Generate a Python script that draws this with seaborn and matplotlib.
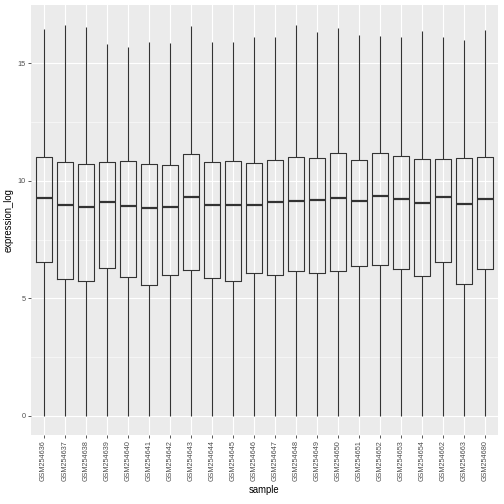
import numpy as np
import pandas as pd
import seaborn as sns
import matplotlib
matplotlib.use("Agg")
import matplotlib.pyplot as plt
from matplotlib.ticker import MultipleLocator

samples = [
    "GSM254636", "GSM254637", "GSM254638", "GSM254639", "GSM254640",
    "GSM254641", "GSM254642", "GSM254643", "GSM254644", "GSM254645",
    "GSM254646", "GSM254647", "GSM254648", "GSM254649", "GSM254650",
    "GSM254651", "GSM254652", "GSM254653", "GSM254654", "GSM254662",
    "GSM254663", "GSM254680",
]
mins = [0.0] * len(samples)
q1s = [6.54, 5.81, 5.73, 6.28, 5.90, 5.56, 5.98, 6.20, 5.86, 5.73, 6.07,
       5.98, 6.15, 6.07, 6.15, 6.37, 6.41, 6.24, 5.94, 6.54, 5.60, 6.24]
medians = [9.27, 8.99, 8.89, 9.12, 8.93, 8.85, 8.89, 9.32, 8.97, 8.97, 8.97,
           9.12, 9.16, 9.20, 9.29, 9.16, 9.37, 9.24, 9.07, 9.33, 9.03, 9.24]
q3s = [11.00, 10.79, 10.71, 10.79, 10.83, 10.71, 10.66, 11.13, 10.79, 10.83, 10.75,
       10.88, 11.00, 10.96, 11.17, 10.88, 11.17, 11.05, 10.92, 10.92, 10.96, 11.00]
maxs = [16.46, 16.63, 16.55, 15.82, 15.70, 15.91, 15.87, 16.59, 15.91, 15.91, 16.12,
        16.12, 16.63, 16.33, 16.50, 16.21, 16.16, 16.12, 16.38, 16.12, 15.99, 16.42]

# long-form table: five summary points per sample reproduce the boxes
rows = []
for i, s in enumerate(samples):
    for v in (mins[i], q1s[i], medians[i], q3s[i], maxs[i]):
        rows.append({"sample": s, "expression_log": v})
df = pd.DataFrame(rows)

fig = plt.figure(figsize=(7, 7), dpi=72)
ax = fig.add_axes([31 / 504, 1 - 435 / 504, 467 / 504, 430 / 504])
ax.set_facecolor("#EBEBEB")

line_col = "#333333"
sns.boxplot(
    data=df, x="sample", y="expression_log", order=samples,
    width=0.75, whis=(0, 100), fill=False, color=line_col,
    linewidth=1.1, showfliers=False, showcaps=False,
    medianprops={"linewidth": 2.2, "color": line_col},
    ax=ax, zorder=3,
)

ax.set_xlim(-0.6, len(samples) - 0.4)
ax.set_ylim(-0.81, 17.48)
ax.yaxis.set_major_locator(MultipleLocator(5))
ax.yaxis.set_minor_locator(MultipleLocator(2.5))
ax.grid(which="major", color="white", linewidth=1.1, zorder=0)
ax.grid(which="minor", axis="y", color="white", linewidth=0.55, zorder=0)
ax.set_axisbelow(True)
for sp in ax.spines.values():
    sp.set_visible(False)

ax.tick_params(axis="both", which="major", length=3, width=0.8, color=line_col,
               labelcolor="#4D4D4D", labelsize=7.2, pad=2)
ax.tick_params(axis="y", which="minor", length=0)
plt.setp(ax.get_xticklabels(), rotation=90, ha="center", va="top",
         family=["Liberation Sans", "DejaVu Sans"])
plt.setp(ax.get_yticklabels(), family=["Liberation Sans", "DejaVu Sans"])

ax.set_xlabel("sample", fontsize=9.5, family=["Liberation Sans", "DejaVu Sans"],
              color="black", labelpad=4)
ax.set_ylabel("expression_log", fontsize=9.5, family=["Liberation Sans", "DejaVu Sans"],
              color="black", labelpad=4)

fig.savefig("out.png", dpi=72)
